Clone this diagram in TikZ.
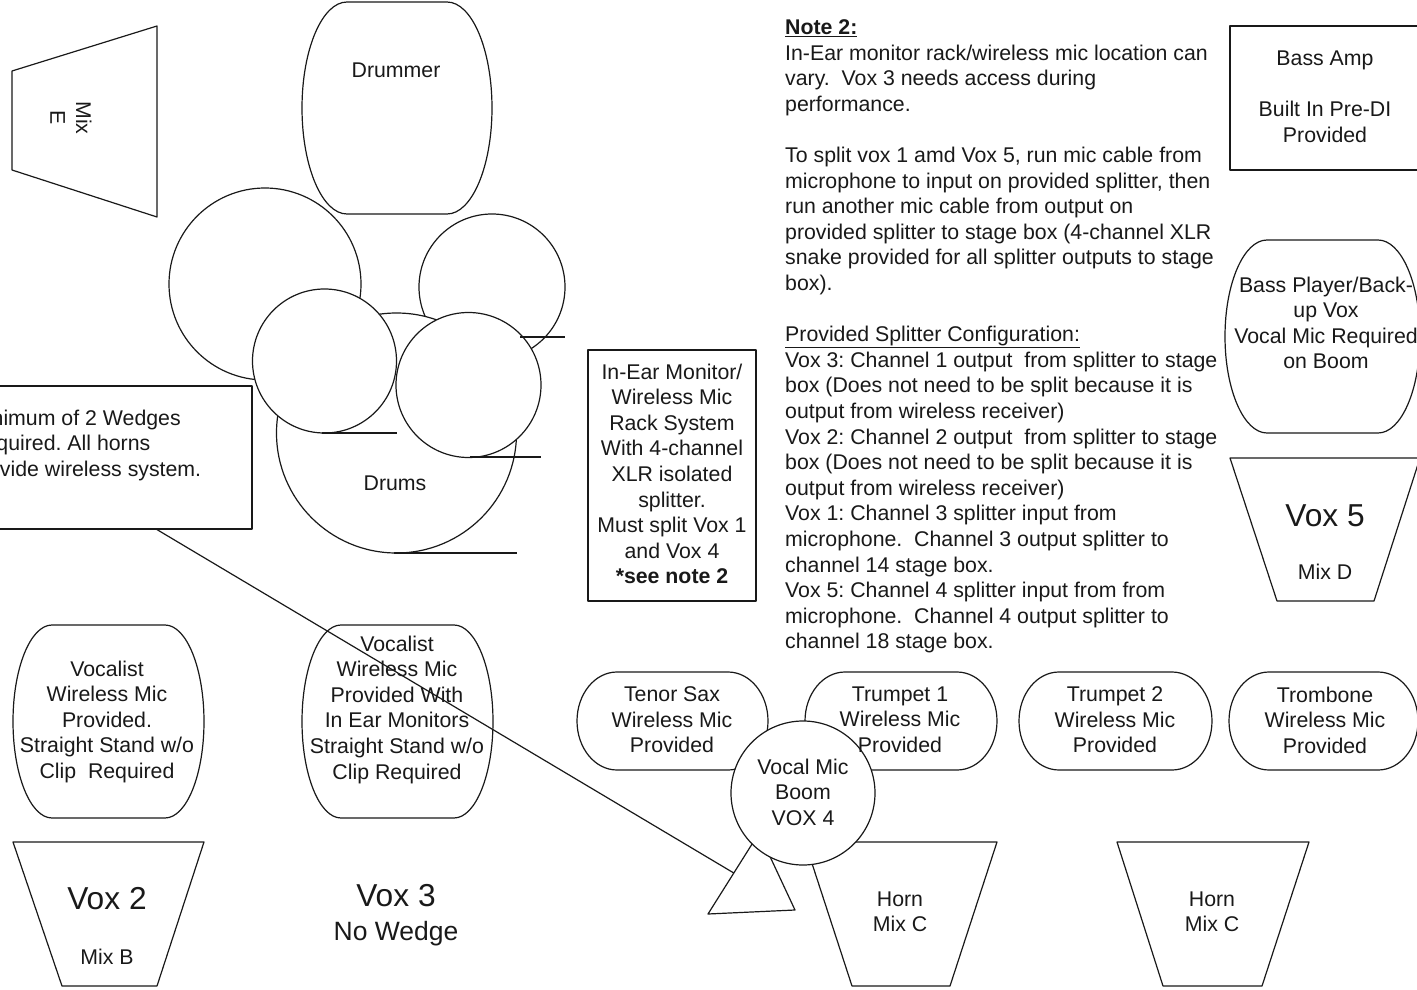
\documentclass[tikz,border=0pt]{standalone}
\usepackage{fontspec}
\setmainfont{Liberation Sans}
\usetikzlibrary{calc}
\tikzset{
  shp/.style={draw=black!90, line width=1.2pt, line join=round},
  txt/.style={font=\fontsize{21.3}{25.6}\selectfont\frenchspacing, inner sep=0pt, align=center, text=black!90},
  bigtxt/.style={font=\fontsize{31.7}{36}\selectfont, inner sep=0pt, text=black!90},
  medtxt/.style={font=\fontsize{26.5}{30}\selectfont, inner sep=0pt, text=black!90},
  boxnode/.style={shp, inner sep=0pt, fill=white},
}
% barrel: L T R B a
\newcommand\barrelpath[5]{%
  \draw[shp, fill=white] ({#1+#5},#2) -- ({#3-#5},#2)
    arc[start angle=90, end angle=-90, x radius=#5pt, y radius={(#4-#2)/2*1pt}]
    -- ({#1+#5},#4)
    arc[start angle=270, end angle=90, x radius=#5pt, y radius={(#4-#2)/2*1pt}]
    -- cycle;}
\begin{document}
\begin{tikzpicture}[x=1pt, y=-1pt]
\useasboundingbox (0,0) rectangle (1417,990);
\clip (0,0) rectangle (1417,990);

% Mix E wedge
\draw[shp] (12,71) -- (157,26) -- (157,217) -- (12,170) -- cycle;
\node[txt, rotate=-90] (mixe) at (71,118) {Mix\\E};

% Drummer
\barrelpath{302}{2}{492}{214}{45}
\node[txt, anchor=base] (drummer) at (396,77.6) {Drummer};

% Drum kit circles
\draw[shp, fill=white] (265,284) circle[radius=96pt];
\draw[shp, fill=white] (492,287) circle[radius=73pt];
\draw[shp, fill=white] (396.5,433) circle[radius=120pt];
\draw[shp, fill=white] (324.5,361) circle[radius=72pt];
\draw[shp, fill=white] (468.5,385) circle[radius=72.5pt];
\draw[shp] (322,433) -- (397,433);
\draw[shp] (470,457) -- (541,457);
\draw[shp] (394,553) -- (517,553);
\draw[shp] (520,337) -- (565,337);
\node[txt, anchor=base] (drums) at (395,490.6) {Drums};

% Wedge note box
\node[boxnode, minimum width=292, minimum height=143] (wbox) at (106,457.5) {};
\node[txt, align=left, anchor=north west] (wtext) at (-31,409.4)
  {Minimum of 2 Wedges\\Required. All horns\\provide wireless system.};

% Vocalist barrels
\barrelpath{13}{625}{204}{818}{39}
\barrelpath{302}{625}{493}{818}{39}

% Vox 2 wedge
\draw[shp] (13,842) -- (204,842) -- (157,986) -- (62,986) -- cycle;

% In-ear rack box
\node[boxnode, minimum width=168, minimum height=251] (rack) at (672,475.5) {};

% Bass amp box
\node[boxnode, minimum width=190, minimum height=144] (bassamp) at (1325,98) {};
% Bass player barrel
\barrelpath{1225}{240}{1420}{433}{42}
% Vox 5 wedge
\draw[shp] (1230,458) -- (1420,458) -- (1374,601) -- (1277,601) -- cycle;

% Horn section ovals
\barrelpath{577}{672}{768}{770}{40}
\barrelpath{805}{672}{997}{770}{40}
\barrelpath{1019}{672}{1212}{770}{40}
\barrelpath{1229}{672}{1418}{770}{40}

% Mic stand triangle and horn wedges
\coordinate (triL) at (708,914);
\coordinate (triR) at (795,910);
\coordinate (triA) at (759,833);
\draw[shp] (triL) -- (triR) -- (triA) -- cycle;
\draw[shp] (805,842) -- (997,842) -- (950,986) -- (852,986) -- cycle;
\draw[shp] (1117,842) -- (1309,842) -- (1262,986) -- (1163,986) -- cycle;

% Vocal mic boom circle
\node[boxnode, circle, minimum size=144] (vox4) at (803,793) {};

% connector from wedge note to mic stand
\coordinate (lineEnd) at ($(triL)!0.506!(triA)$);
\draw[shp] ([xshift=51pt]wbox.south) -- (lineEnd);

% ---- texts ----
\node[txt, anchor=north] (voc1) at (107,660.4)
  {Vocalist\\Wireless Mic\\Provided.\\Straight Stand w/o\\Clip\ \ Required};
\node[txt, anchor=north] (voc2) at (397,635.4)
  {Vocalist\\Wireless Mic\\Provided With\\In Ear Monitors\\Straight Stand w/o\\Clip Required};
\node[bigtxt, anchor=base] (vox2) at (107,909.4) {Vox 2};
\node[txt, anchor=base] (mixb) at (107,964.6) {Mix B};
\node[bigtxt, anchor=base] (vox3) at (396,906.4) {Vox 3};
\node[medtxt, anchor=base] (nowedge) at (396,940.5) {No Wedge};

\node[txt, anchor=north] (racktext) at (672,363.4)
  {In-Ear Monitor/\\Wireless Mic\\Rack System\\With 4-channel\\XLR isolated\\splitter.\\Must split Vox 1\\and Vox 4\\\textbf{*see note 2}};

\node[txt, anchor=north] (bassamptext) at (1325,50.4)
  {Bass Amp\\[25.6pt]Built In Pre-DI\\Provided};
\node[txt, anchor=north] (bassplayer) at (1326,276.4)
  {Bass Player/Back-\\up Vox\\Vocal Mic Required\\on Boom};
\node[bigtxt, anchor=base] (vox5) at (1325,526.4) {Vox 5};
\node[txt, anchor=base] (mixd) at (1325,579.6) {Mix D};

\node[txt, anchor=north] (tenor) at (672,686.4) {Tenor Sax\\Wireless Mic\\Provided};
\node[txt, anchor=north] (tpt1) at (900,686.4) {Trumpet 1\\Wireless Mic\\Provided};
\node[txt, anchor=north] (tpt2) at (1115,686.4) {Trumpet 2\\Wireless Mic\\Provided};
\node[txt, anchor=north] (tbn) at (1325,686.4) {Trombone\\Wireless Mic\\Provided};
\node[txt, anchor=north] (vox4text) at (803,758.4) {Vocal Mic\\Boom\\VOX 4};
\node[txt, anchor=north] (horn1) at (900,891.4) {Horn\\Mix C};
\node[txt, anchor=north] (horn2) at (1212,891.4) {Horn\\Mix C};

\node[txt, align=left, anchor=north west] (note) at (785,19.4)
  {\textbf{\underline{Note 2:}}\\
   In-Ear monitor rack/wireless mic location can\\
   vary.\ \ Vox 3 needs access during\\
   performance.\\[25.6pt]
   To split vox 1 amd Vox 5, run mic cable from\\
   microphone to input on provided splitter, then\\
   run another mic cable from output on\\
   provided splitter to stage box (4-channel XLR\\
   snake provided for all splitter outputs to stage\\
   box).\\[25.6pt]
   \underline{Provided Splitter Configuration:}\\
   Vox 3: Channel 1 output\ \ from splitter to stage\\
   box (Does not need to be split because it is\\
   output from wireless receiver)\\
   Vox 2: Channel 2 output\ \ from splitter to stage\\
   box (Does not need to be split because it is\\
   output from wireless receiver)\\
   Vox 1: Channel 3 splitter input from\\
   microphone.\ \ Channel 3 output splitter to\\
   channel 14 stage box.\\
   Vox 5: Channel 4 splitter input from from\\
   microphone.\ \ Channel 4 output splitter to\\
   channel 18 stage box.};
\end{tikzpicture}
\end{document}
